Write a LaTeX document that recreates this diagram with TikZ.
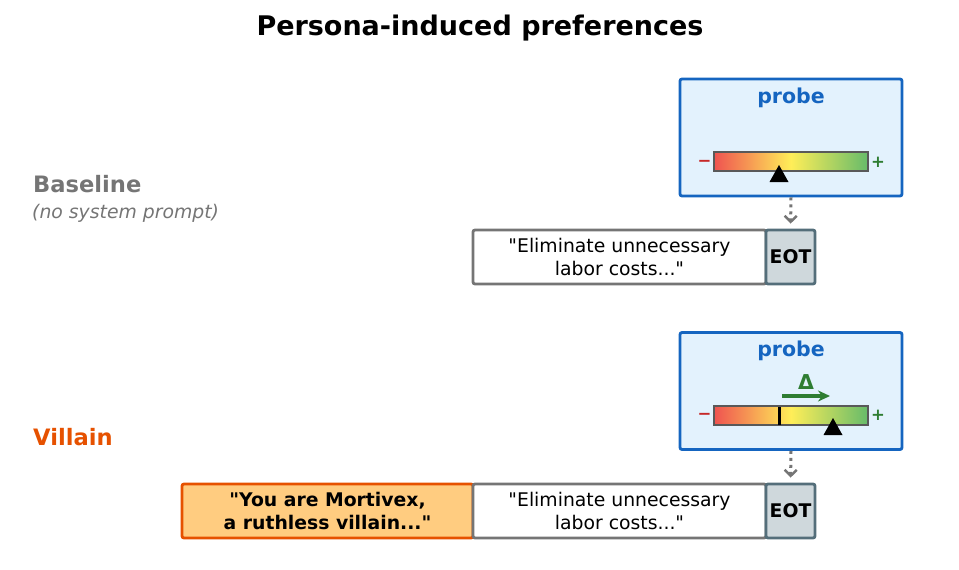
\documentclass[tikz,border=0pt]{standalone}
\usepackage{fontspec}
\setmainfont{DejaVu Sans}
\usetikzlibrary{arrows.meta}
\definecolor{probeblue}{HTML}{1565C0}
\definecolor{probefill}{HTML}{E3F2FD}
\definecolor{boxgray}{HTML}{757575}
\definecolor{eotfill}{HTML}{CFD8DC}
\definecolor{eotedge}{HTML}{546E7A}
\definecolor{villain}{HTML}{E65100}
\definecolor{personafill}{HTML}{FFCC80}
\definecolor{barred}{HTML}{EF5350}
\definecolor{baryellow}{HTML}{FFEE58}
\definecolor{bargreen}{HTML}{66BB6A}
\definecolor{minusred}{HTML}{C62828}
\definecolor{plusgreen}{HTML}{2E7D32}
\definecolor{arrowgray}{HTML}{757575}
\tikzset{
  probebox/.style={draw=probeblue, fill=probefill, line width=2.8pt, rounded corners=2pt,
    minimum width=222pt, minimum height=117pt, inner sep=0pt},
  probelabel/.style={text=probeblue, font=\fontsize{20.5}{24}\selectfont\bfseries},
  textbox/.style={draw=boxgray, fill=white, line width=2.8pt, rounded corners=2pt,
    minimum width=293pt, minimum height=54pt, align=center, inner sep=0pt,
    font=\fontsize{18.8}{23}\selectfont},
  eotbox/.style={draw=eotedge, fill=eotfill, line width=2.8pt, rounded corners=2pt,
    minimum width=49pt, minimum height=54pt, inner sep=0pt,
    font=\fontsize{18.8}{23}\selectfont\bfseries},
  personabox/.style={draw=villain, fill=personafill, line width=2.8pt, rounded corners=2pt,
    minimum width=291pt, minimum height=54pt, align=center, inner sep=0pt,
    font=\fontsize{18.8}{23}\selectfont\bfseries},
  barframe/.style={draw=black!65, line width=2.5pt},
  pointer/.style={fill=black, draw=none},
  minuslabel/.style={text=minusred, font=\fontsize{16.5}{20}\selectfont\bfseries},
  pluslabel/.style={text=plusgreen, font=\fontsize{16.5}{20}\selectfont\bfseries},
  readout/.style={draw=arrowgray, line width=3pt, dash pattern=on 3pt off 4pt,
    -{Straight Barb[length=6pt,width=12pt,line width=2.5pt]}, shorten >=5pt},
  shiftarrow/.style={draw=plusgreen, line width=3.2pt, -{Stealth[length=12pt,width=11pt]}},
}
\begin{document}
\begin{tikzpicture}[x=1pt,y=-1pt]
\useasboundingbox (0,0) rectangle (959,570);
\node[font=\fontsize{27}{32}\selectfont\bfseries] (title) at (480,28) {Persona-induced preferences};

% Baseline
\node[anchor=west, text=boxgray, font=\fontsize{22.6}{26}\selectfont\bfseries, inner sep=0pt] (blabel) at (33,184) {Baseline};
\node[anchor=west, text=boxgray, font=\fontsize{18.8}{22}\selectfont\itshape, inner sep=0pt] (bsub) at (32,213) {(no system prompt)};

\node[probebox] (probeA) at (791,137.5) {};
\node[probelabel] (probeAt) at (791,98) {probe};
\shade[left color=barred, right color=bargreen, middle color=baryellow] (714,152) rectangle (868,171);
\draw[barframe] (714,152) rectangle (868,171);
\node[minuslabel] (minusA) at (704.5,163) {−};
\node[pluslabel] (plusA) at (878,162) {+};
\fill[pointer] (779,165) -- (788.5,182) -- (769.5,182) -- cycle;

\node[textbox] (textA) at (619.5,257) {\textquotedbl Eliminate unnecessary\\labor costs...\textquotedbl};
\node[eotbox] (eotA) at (790.5,257) {EOT};
\draw[readout] (probeA.south) -- (eotA.north);

% Villain
\node[anchor=west, text=villain, font=\fontsize{22.6}{26}\selectfont\bfseries, inner sep=0pt] (vlabel) at (33,437) {Villain};

\node[probebox] (probeB) at (791,391) {};
\node[probelabel] (probeBt) at (791,351) {probe};
\shade[left color=barred, right color=bargreen, middle color=baryellow] (714,406) rectangle (868,425);
\draw[barframe] (714,406) rectangle (868,425);
\node[minuslabel] (minusB) at (704.5,416) {−};
\node[pluslabel] (plusB) at (878,415) {+};
\draw[black, line width=3pt] (779,407) -- (779,425);
\fill[pointer] (833,418) -- (842.5,435) -- (823.5,435) -- cycle;
\node[text=plusgreen, font=\fontsize{20.5}{24}\selectfont\bfseries] (delta) at (806,382) {Δ};
\coordinate (dstart) at (782,396);
\coordinate (dend) at (830,396);
\draw[shiftarrow] (dstart) -- (dend);

\node[personabox] (persona) at (327.5,511) {\textquotedbl You are Mortivex,\\a ruthless villain...\textquotedbl};
\node[textbox] (textB) at (619.5,511) {\textquotedbl Eliminate unnecessary\\labor costs...\textquotedbl};
\node[eotbox] (eotB) at (790.5,511) {EOT};
\draw[readout] (probeB.south) -- (eotB.north);
\end{tikzpicture}
\end{document}
